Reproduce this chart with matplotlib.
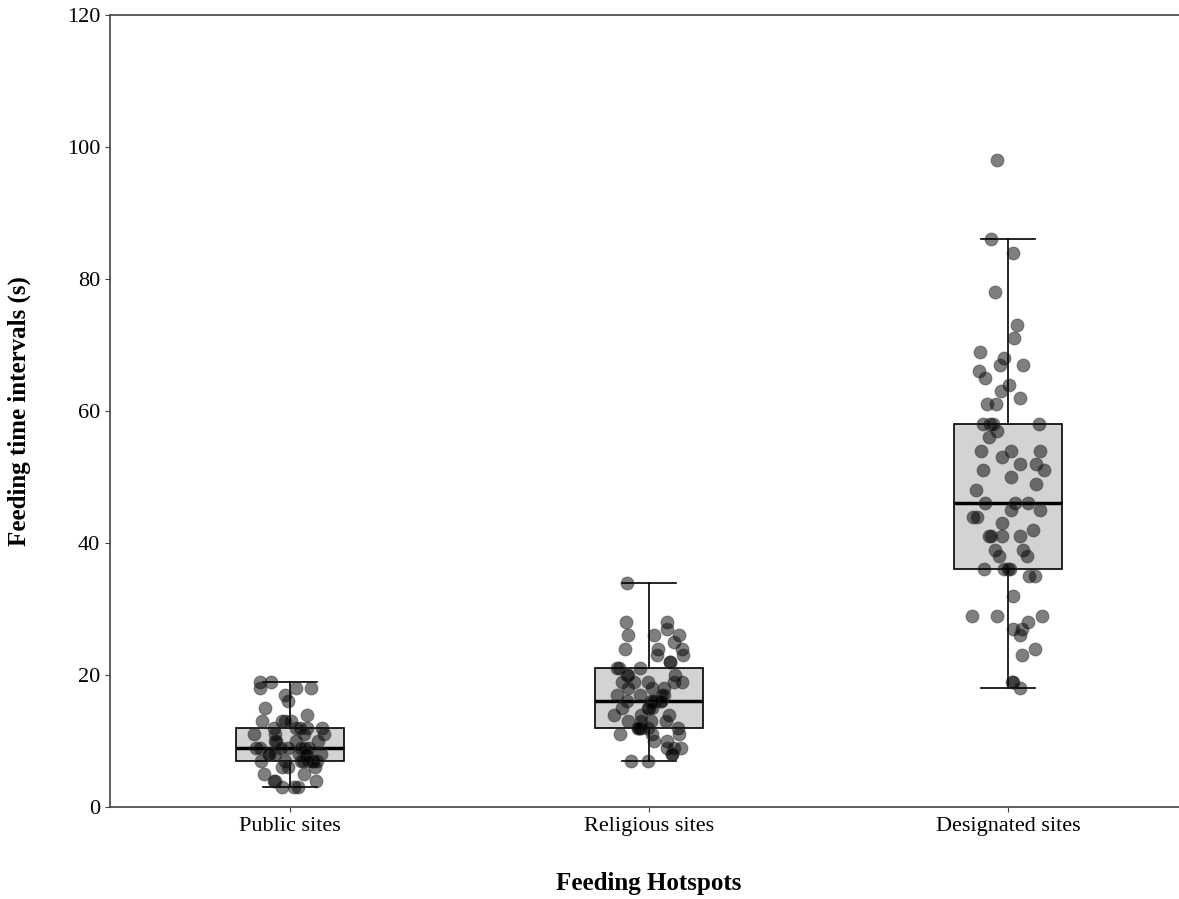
import numpy as np
import matplotlib
matplotlib.use("Agg")
import matplotlib.pyplot as plt

plt.rcParams['font.family'] = ['Liberation Serif', 'DejaVu Serif']

# values (seconds)
categories = ["Public sites", "Religious sites", "Designated sites"]

public = [19, 19, 18, 18, 18, 17, 16, 15, 14, 13, 13, 13, 13, 12, 12, 12, 12, 12,
          11, 11, 11, 11, 10, 10, 10, 10, 9, 9, 9, 9, 9, 9, 9, 8, 8, 8, 8, 8, 8, 8,
          7, 7, 7, 7, 7, 7, 7, 7, 6, 6, 6, 5, 5, 4, 4, 4, 3, 3, 3]

religious = [34, 28, 28, 27, 26, 26, 26, 25, 24, 24, 24, 23, 23, 22, 22, 21, 21, 21,
             20, 20, 20, 19, 19, 19, 19, 19, 18, 18, 18, 17, 17, 17, 17,
             16, 16, 16, 16, 16, 16, 15, 15, 15, 15, 14, 14, 14, 13, 13, 13, 13,
             12, 12, 12, 12, 12, 12, 11, 11, 11, 10, 10, 9, 9, 9, 8, 8, 7, 7]

designated = [98, 86, 84, 78, 73, 71, 69, 68, 67, 67, 66, 65, 64, 63, 62, 61, 61, 58,
              58, 58, 58, 57, 56, 54, 54, 54, 53, 52, 52, 51, 51, 50, 49, 48, 46, 46,
              46, 45, 45, 44, 44, 43, 42, 41, 41, 41, 41, 39, 39, 38, 38, 36, 35, 36,
              36, 36, 35, 32, 29, 29, 29, 28, 27, 27, 26, 24, 23, 19, 19, 18]

groups = [public, religious, designated]

fig = plt.figure(figsize=(11.79, 8.99), dpi=100)
ax = fig.add_axes([110 / 1179, 1 - 807 / 899, 1078 / 1179, 792 / 899])

ax.boxplot(groups, positions=range(3), widths=0.3, patch_artist=True,
           showfliers=False,
           boxprops=dict(facecolor='#d3d3d3', edgecolor='black', linewidth=1.2),
           medianprops=dict(color='black', linewidth=2.5),
           whiskerprops=dict(color='black', linewidth=1.2),
           capprops=dict(color='black', linewidth=1.2))

# jittered points on top
rng = np.random.default_rng(3)
for i, vals in enumerate(groups):
    xs = i + rng.uniform(-0.1, 0.1, len(vals))
    ax.scatter(xs, vals, s=85, color='black', alpha=0.5, linewidths=0.8,
               edgecolors='#303030', zorder=3)

ax.set_xlim(-0.5, 2.5)
ax.set_ylim(0, 120)
ax.set_yticks(range(0, 121, 20))
ax.set_xticks(range(3))
ax.set_xticklabels(categories)
ax.tick_params(labelsize=16, color='#444444')

for sp in ax.spines.values():
    sp.set_color('#444444')
    sp.set_linewidth(1.2)

ax.set_xlabel("Feeding Hotspots", fontsize=18, fontweight='bold', labelpad=26)
ax.set_ylabel("Feeding time intervals (s)", fontsize=18, fontweight='bold', labelpad=26)

fig.savefig("out.png", dpi=100)
